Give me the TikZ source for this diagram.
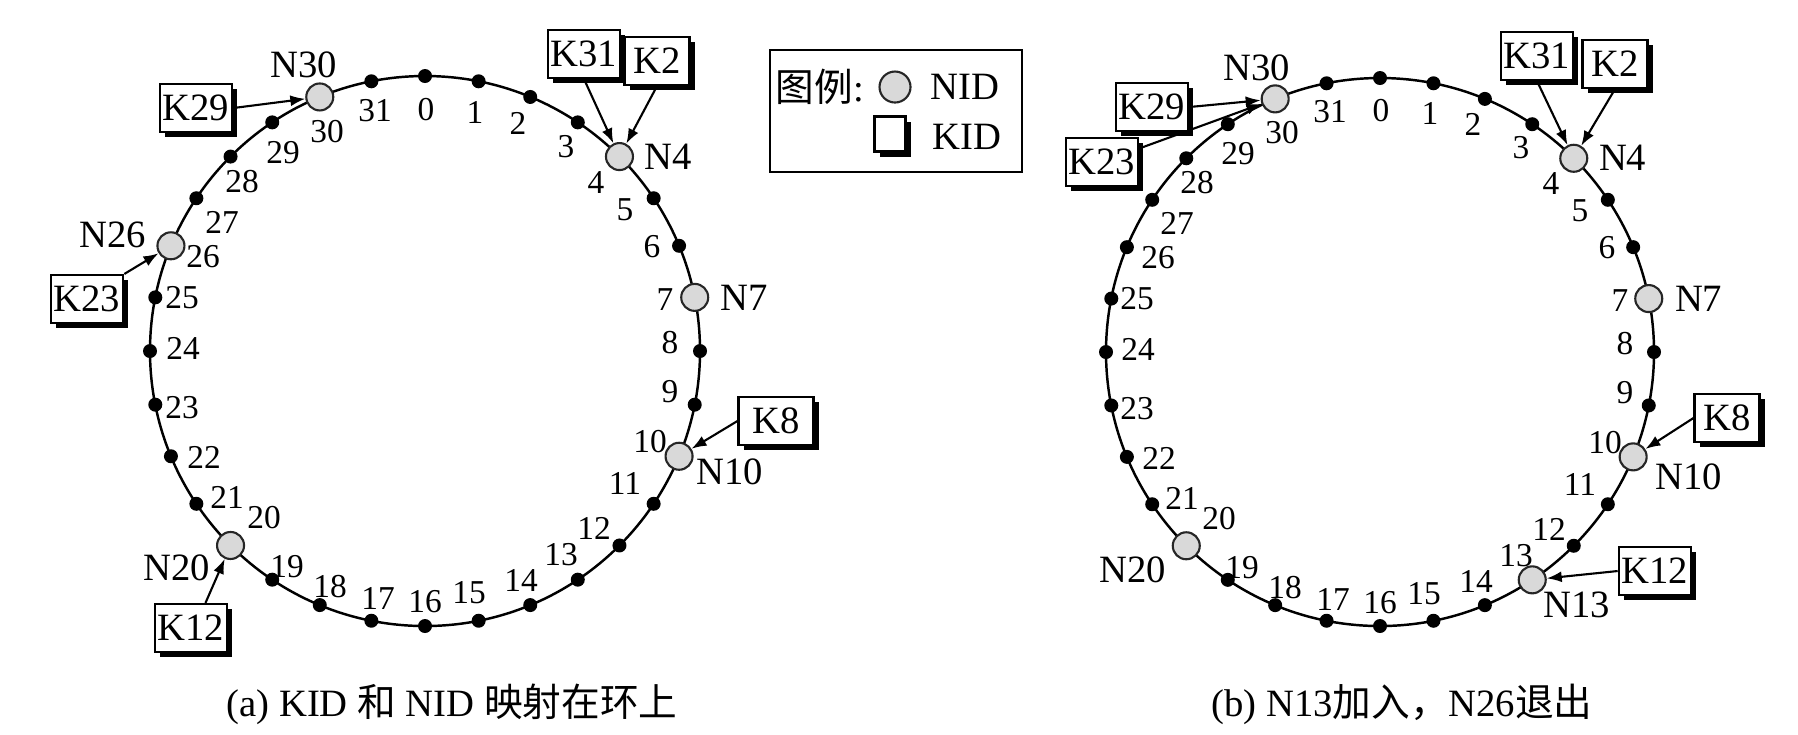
\documentclass[tikz,border=0pt]{standalone}
\usepackage{fontspec}
\setmainfont{Liberation Serif}
\newfontfamily\cjk{Noto Sans CJK SC}
\usepackage{tikz}
\usetikzlibrary{arrows.meta, positioning, shadows}

% label offsets from the ring centre, id/dx/dy
\newcommand{\numpos}{0/1/-241, 1/50/-239, 2/93/-228, 3/141/-204, 4/171/-169,
  5/200/-141, 6/227/-104, 7/240/-51, 8/245/-8, 9/245/41, 10/225/91,
  11/200/132, 12/169/177, 13/136/204, 14/96/229, 15/44/242, 16/0/251,
  17/-47/247, 18/-95/236, 19/-138/216, 20/-161/167, 21/-198/146,
  22/-221/106, 23/-243/57, 24/-242/-3, 25/-243/-53, 26/-222/-94,
  27/-203/-129, 28/-183/-169, 29/-142/-198, 30/-98/-219, 31/-50/-240}

\begin{document}
\begin{tikzpicture}[
    x=0.1mm, y=-0.1mm,
    ring/.style={line width=0.7pt},
    dot/.style={circle, fill=black, inner sep=0pt, minimum size=1.4mm},
    nid/.style={circle, draw=black!85, fill=black!15, line width=0.6pt,
                inner sep=0pt, minimum size=2.7mm},
    kid/.style={draw, fill=white, line width=0.6pt,
                font=\fontsize{11}{13}\selectfont,
                inner sep=0.3mm, minimum width=6.5mm, minimum height=4.8mm,
                drop shadow={shadow xshift=0.5mm, shadow yshift=-0.5mm,
                             fill=black, opacity=1}},
    num/.style={font=\fontsize{9.5}{11}\selectfont, inner sep=0pt},
    nlab/.style={font=\fontsize{11}{13}\selectfont, inner sep=0pt},
    arr/.style={-{Latex[length=1.5mm, width=1.1mm]}, line width=0.6pt},
    captxt/.style={font=\fontsize{11}{13}\selectfont}
  ]
  \useasboundingbox (0,0) rectangle (1798,734);

  % (a) ring: N4, N7, N10, N20, N26, N30
  \draw[ring] (425,351) circle[radius=27.5mm];
  \foreach \k in {0,...,31}
    \node[dot] (a\k) at ({425+275*cos(90-\k*11.25)}, {351-275*sin(90-\k*11.25)}) {};
  \foreach \k/\dx/\dy in \numpos
    \node[num] (la\k) at (425+\dx, 351+\dy) {\k};
  \node[nid] (n30a) at (a30) {};
  \node[nid] (n4a) at (a4) {};
  \node[nid] (n7a) at (a7) {};
  \node[nid] (n10a) at (a10) {};
  \node[nid] (n20a) at (a20) {};
  \node[nid] (n26a) at (a26) {};
  \node[nlab] (ln30a) at (304,65) {N30};
  \node[nlab, right=1mm of n4a] (ln4a) {N4};
  \node[nlab, right=1.1mm of n7a] (ln7a) {N7};
  \node[nlab] (ln10a) at (730,472) {N10};
  \node[nlab] (ln20a) at (177,568) {N20};
  \node[nlab] (ln26a) at (113,235) {N26};

  \node[kid] (k29a) at (196,108) {K29};
  \node[kid] (k31a) at (584,54) {K31};
  \node[kid] (k2a) at (657,61) {K2};
  \node[kid] (k23a) at (87,299) {K23};
  \node[kid] (k12a) at (191,628) {K12};
  \node[kid, minimum width=7.5mm] (k8a) at (776,421) {K8};
  \draw[arr] (k29a.east) -- (n30a);
  \draw[arr] (k31a.south) -- (n4a);
  \draw[arr] (k2a.south) -- (n4a);
  \draw[arr] (k23a.north east) -- (n26a);
  \draw[arr] (k12a.60) -- (n20a);
  \draw[arr] (k8a.west) -- (n10a);

  % legend
  \node[draw, line width=0.5pt, minimum width=25.2mm, minimum height=12.2mm]
    (legend) at (896,111) {};
  \node[captxt] (lgtitle) at (820,87) {{\cjk 图例}:};
  \node[nid, minimum size=3.1mm] (lgnid) at (895,87) {};
  \node[captxt, anchor=west, inner sep=0pt] (lgnidtxt) at (930,87) {NID};
  \node[kid, minimum width=3.1mm, minimum height=3.5mm] (lgkid) at (890,134) {};
  \node[captxt, anchor=west, inner sep=0pt] (lgkidtxt) at (932,137) {KID};

  % (b) ring: N13 joins, N26 leaves
  \draw[ring] (1380,352) circle[radius=27.4mm];
  \foreach \k in {0,...,31}
    \node[dot] (b\k) at ({1380+274*cos(90-\k*11.25)}, {352-274*sin(90-\k*11.25)}) {};
  \foreach \k/\dx/\dy in \numpos
    \node[num] (lb\k) at (1380+\dx, 352+\dy) {\k};
  \node[nid] (n30b) at (b30) {};
  \node[nid] (n4b) at (b4) {};
  \node[nid] (n7b) at (b7) {};
  \node[nid] (n10b) at (b10) {};
  \node[nid] (n13b) at (b13) {};
  \node[nid] (n20b) at (b20) {};
  \node[nlab] (ln30b) at (1257,68) {N30};
  \node[nlab, right=1mm of n4b] (ln4b) {N4};
  \node[nlab, right=1.1mm of n7b] (ln7b) {N7};
  \node[nlab] (ln10b) at (1689,477) {N10};
  \node[nlab] (ln13b) at (1577,605) {N13};
  \node[nlab] (ln20b) at (1133,570) {N20};

  \node[kid] (k29b) at (1152,107) {K29};
  \node[kid] (k23b) at (1102,162) {K23};
  \node[kid] (k31b) at (1537,56) {K31};
  \node[kid] (k2b) at (1615,64) {K2};
  \node[kid] (k8b) at (1727,418) {K8};
  \node[kid] (k12b) at (1655,571) {K12};
  \draw[arr] (k29b.east) -- (n30b);
  \draw[arr] (k23b.20) -- (n30b);
  \draw[arr] (k31b.south) -- (n4b);
  \draw[arr] (k2b.south) -- (n4b);
  \draw[arr] (k8b.west) -- (n10b);
  \draw[arr] (k12b.west) -- (n13b);

  % captions
  \node[captxt] (capa) at (452,704) {(a) KID {\cjk 和} NID {\cjk 映射在环上}};
  \node[captxt] (capb) at (1402,704) {(b) N13{\cjk 加入，}N26{\cjk 退出}};
\end{tikzpicture}
\end{document}
